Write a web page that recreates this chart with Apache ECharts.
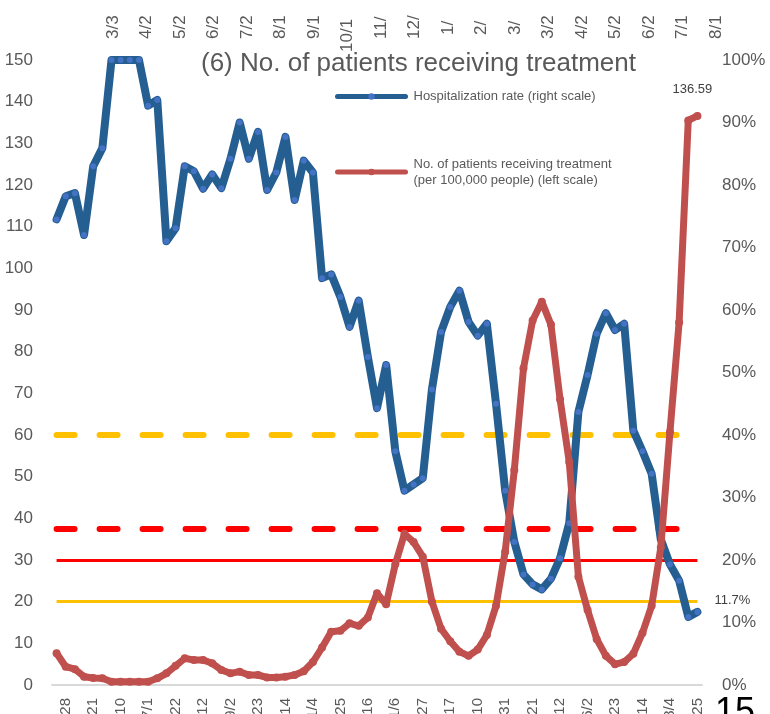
<!DOCTYPE html>
<html><head><meta charset="utf-8">
<script src="https://cdn.jsdelivr.net/npm/echarts@6/dist/echarts.min.js"></script>
<style>html,body{margin:0;padding:0;background:#fff;}#c{width:770px;height:714px;}</style>
</head><body><div id="c"></div>
<script>
const categories = ['4/21','4/28','5/5','5/12','5/21','5/27','6/3','6/10','6/17','6/24','7/1','7/8','7/15','7/22','7/29','8/5','8/12','8/19','8/26','9/2','9/9','9/16','9/23','9/30','10/7','10/14','10/21','10/28','11/4','11/11','11/18','11/25','12/2','12/9','12/16','12/23','12/30','1/6','1/13','1/20','1/27','2/3','2/10','2/17','2/24','3/3','3/10','3/17','3/24','3/31','4/7','4/14','4/21','4/28','5/5','5/12','5/19','5/26','6/2','6/9','6/16','6/23','6/30','7/7','7/14','7/21','7/28','8/4','8/11','8/18','8/25'];

// Hospitalization rate (%), right scale
const hospRate = [74.5,78.2,78.7,72.0,83.0,85.9,100,100,100,100,
  92.7,93.6,71.0,73.1,83.0,82.2,79.4,81.7,79.5,84.2,
  90.0,84.2,88.5,79.2,82.0,87.7,77.6,83.9,82.0,65.1,
  65.7,62.1,57.3,61.5,52.5,44.3,51.2,37.4,31.1,32.1,
  33.1,47.3,56.5,60.5,63.1,58.1,55.9,57.8,45.0,31.1,
  22.9,17.7,16.1,15.3,17.0,20.3,25.9,43.7,49.6,56.2,
  59.5,56.8,57.8,40.7,37.4,33.8,23.3,19.3,16.7,10.9,
  11.7];

// No. of patients receiving treatment per 100,000 people, left scale
const patients = [7.6,4.4,3.8,2.0,1.7,1.6,0.8,0.8,0.8,0.8,
  0.8,1.6,2.8,4.6,6.4,6.0,6.0,5.2,3.6,2.8,
  3.2,2.4,2.4,1.8,1.8,2.0,2.4,3.3,5.5,9.0,
  12.8,13.0,14.8,14.2,16.2,22.0,19.4,29.0,36.3,34.3,
  30.8,20.0,13.5,10.5,8.0,7.0,8.5,12.0,19.0,32.0,
  51.6,76.0,87.5,92.0,86.5,68.5,53.5,26.0,18.0,11.0,
  7.0,5.0,5.5,7.5,12.5,19.0,33.0,60.7,87.0,135.5,
  136.59];

// Threshold lines (left-scale values)
const thresholdSolid = [20, 30];        // stage III / IV, patients
const thresholdDashed = [60, 37.5];     // 40% / 25% hospitalization rate
const thresholdSolidColors = ['#FFC000', '#FF0000'];
const thresholdDashedColors = ['#FFC000', '#FF0000'];

// Cropped tick labels from the chart above (only the visible parts)
const topLabels = ['3/3','4/2','5/2','6/2','7/2','8/1','9/1','10/1','11/','12/','1/','2/','3/','3/2','4/2','5/2','6/2','7/1','8/1'];

const blueName = 'Hospitalization rate (right scale)';
const redName = 'No. of patients receiving treatment\n(per 100,000 people) (left scale)';
const FONT = 'Liberation Sans, Arial, sans-serif';
const GRAY = '#595959';

const last = categories.length - 1;
const markData = [];
thresholdSolid.forEach((v, k) => {
  markData.push([{coord: [0, v], lineStyle: {color: thresholdSolidColors[k], width: 3, type: 'solid'}}, {coord: [last, v]}]);
});
thresholdDashed.forEach((v, k) => {
  markData.push([{coord: [0, v], lineStyle: {color: thresholdDashedColors[k], width: 6, type: [18, 25], cap: 'round'}}, {coord: [last, v]}]);
});

const blueData = hospRate.map((v, i) => i === last ? {value: v, label: {show: true, position: 'right', distance: 14, offset: [0, -11], formatter: '11.7%', color: '#404040', fontSize: 13, fontFamily: FONT}} : v);
const redData = patients.map((v, i) => i === last ? {value: v, label: {show: true, position: 'top', distance: 16, offset: [-5, 0], formatter: '136.59', color: '#404040', fontSize: 13, fontFamily: FONT}} : v);

const shortTop = {'1/': 1, '2/': 1, '3/': 1};
const graphics = topLabels.map((t, i) => ({
  type: 'text', x: 113 + i * 33.5, y: t === '10/1' ? 52 : (shortTop[t] ? 35 : 39), rotation: Math.PI / 2,
  style: {text: t, fontSize: 17, fontFamily: FONT, fill: GRAY, textAlign: 'left', textVerticalAlign: 'middle'}
}));
graphics.push({type: 'text', x: 715, y: 695, style: {text: '15', fontSize: 36, fontFamily: FONT, fill: '#000', textAlign: 'left', textVerticalAlign: 'top'}});

const chart = echarts.init(document.getElementById('c'), null, {renderer: 'canvas'});
chart.setOption({
  animation: false,
  backgroundColor: '#fff',
  textStyle: {fontFamily: FONT},
  title: {
    text: '(6) No. of patients receiving treatment',
    left: 196, top: 46,
    textStyle: {fontSize: 26, fontWeight: 'normal', color: GRAY, fontFamily: FONT}
  },
  legend: [
    {data: [blueName], left: 330, top: 85, orient: 'vertical', itemWidth: 68, itemHeight: 8,
     lineStyle: {width: 5, cap: 'round'},
     textStyle: {fontSize: 13, color: GRAY, fontFamily: FONT, padding: [0, 0, 0, 3]}},
    {data: [redName], left: 330, top: 151, orient: 'vertical', itemWidth: 68, itemHeight: 8,
     lineStyle: {width: 5, cap: 'round'},
     textStyle: {fontSize: 13, color: GRAY, fontFamily: FONT, lineHeight: 16, padding: [0, 0, 0, 3]}}
  ],
  grid: {left: 52, right: 68, top: 60, bottom: 29, containLabel: false, outerBoundsMode: 'none'},
  xAxis: {
    type: 'category', data: categories, boundaryGap: true,
    axisLine: {lineStyle: {color: '#D9D9D9', width: 2}},
    axisTick: {show: false},
    axisLabel: {
      rotate: 90, margin: 13, fontSize: 15, color: GRAY, fontFamily: FONT,
      interval: (idx) => (idx - 1) % 3 === 0
    },
    splitLine: {show: false}
  },
  yAxis: [
    {type: 'value', min: 0, max: 150, interval: 10,
     axisLine: {show: false}, axisTick: {show: false}, splitLine: {show: false},
     axisLabel: {fontSize: 17, color: GRAY, margin: 19, fontFamily: FONT}},
    {type: 'value', min: 0, max: 100, interval: 10, position: 'right',
     axisLine: {show: false}, axisTick: {show: false}, splitLine: {show: false},
     axisLabel: {fontSize: 17, color: GRAY, margin: 20, fontFamily: FONT, formatter: '{value}%'}}
  ],
  series: [
    {name: blueName, type: 'line', yAxisIndex: 1, data: blueData, z: 3,
     symbol: 'circle', symbolSize: 6, showAllSymbol: true,
     itemStyle: {color: '#4472C4'},
     lineStyle: {color: '#255E91', width: 8, cap: 'round', join: 'round'}},
    {name: redName, type: 'line', yAxisIndex: 0, data: redData, z: 4,
     symbol: 'circle', symbolSize: 8, showAllSymbol: true,
     itemStyle: {color: '#C0504D'},
     lineStyle: {color: '#C0504D', width: 7, cap: 'round', join: 'round'},
     markLine: {silent: true, symbol: ['none', 'none'], label: {show: false}, z: 1, data: markData}}
  ],
  graphic: graphics
});
</script>
</body></html>
